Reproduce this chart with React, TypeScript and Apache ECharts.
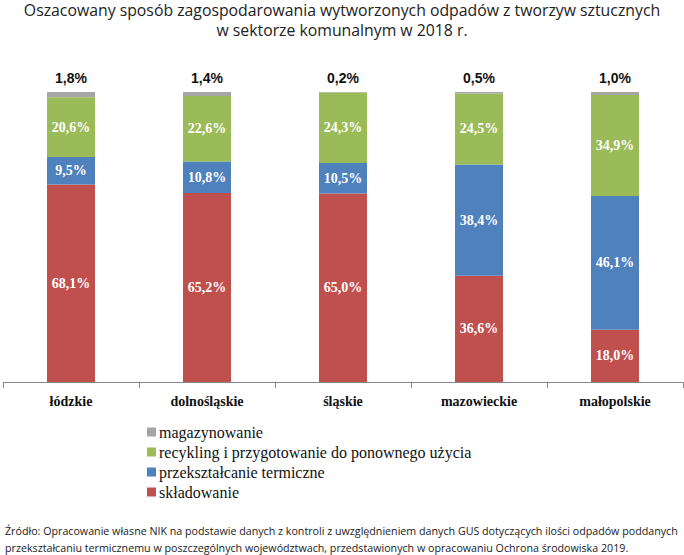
import React, { useEffect, useRef } from "react";
import * as echarts from "echarts";

const categories = ["łódzkie", "dolnośląskie", "śląskie", "mazowieckie", "małopolskie"];
const skladowanie = [68.1, 65.2, 65.0, 36.6, 18.0];
const przeksztalcanie = [9.5, 10.8, 10.5, 38.4, 46.1];
const recykling = [20.6, 22.6, 24.3, 24.5, 34.9];
const magazynowanie = [1.8, 1.4, 0.2, 0.5, 1.0];

const titleText =
  "Oszacowany sposób zagospodarowania wytworzonych odpadów z tworzyw sztucznych\nw sektorze komunalnym w 2018 r.";
const sourceText =
  "Źródło: Opracowanie własne NIK na podstawie danych z kontroli z uwzględnieniem danych GUS dotyczących ilości odpadów poddanych\nprzekształcaniu termicznemu w poszczególnych województwach, przedstawionych w opracowaniu Ochrona środowiska 2019.";

const fmt = (v: number) => v.toFixed(1).replace(".", ",") + "%";

export default function App() {
  const ref = useRef<HTMLDivElement>(null);
  useEffect(() => {
    if (!ref.current) return;
    const chart = echarts.init(ref.current, null, { renderer: "svg" });
    const inLabel = {
      show: true,
      position: "inside",
      color: "#ffffff",
      fontFamily: "Liberation Serif",
      fontWeight: "bold",
      fontSize: 14,
      formatter: (p: any) => fmt(p.value),
    };
    const barW = 48;
    chart.setOption({
      animation: false,
      legend: {
        orient: "vertical",
        left: 142,
        top: 419,
        icon: "rect",
        itemWidth: 9,
        itemHeight: 9,
        itemGap: 4,
        data: ["magazynowanie", "recykling i przygotowanie do ponownego użycia", "przekształcanie termiczne", "składowanie"],
        textStyle: {
          fontFamily: "Liberation Serif",
          fontSize: 16,
          color: "#111",
          lineHeight: 16,
          padding: [0, 0, 0, -2],
        },
      },
      grid: { left: 3, right: 1, top: 92, bottom: 173, containLabel: false },
      xAxis: {
        type: "category",
        data: categories,
        axisLine: { lineStyle: { color: "#888", width: 1 } },
        axisTick: { show: true, length: 6, lineStyle: { color: "#888" } },
        axisLabel: {
          color: "#111",
          fontFamily: "Liberation Serif",
          fontWeight: "bold",
          fontSize: 14,
          margin: 12,
        },
      },
      yAxis: { type: "value", min: 0, max: 100, show: false, splitLine: { show: false } },
      series: [
        {
          name: "składowanie",
          type: "bar",
          stack: "s",
          barWidth: barW,
          data: skladowanie,
          itemStyle: { color: "#C0504D" },
          label: inLabel,
        },
        {
          name: "przekształcanie termiczne",
          type: "bar",
          stack: "s",
          barWidth: barW,
          data: przeksztalcanie,
          itemStyle: { color: "#4F81BD" },
          label: inLabel,
        },
        {
          name: "recykling i przygotowanie do ponownego użycia",
          type: "bar",
          stack: "s",
          barWidth: barW,
          data: recykling,
          itemStyle: { color: "#9BBB59" },
          label: inLabel,
        },
        {
          name: "magazynowanie",
          type: "bar",
          stack: "s",
          barWidth: barW,
          data: magazynowanie,
          itemStyle: { color: "#A5A5A5" },
          label: {
            show: true,
            position: "top",
            distance: 7,
            color: "#111",
            fontFamily: "Liberation Sans",
            fontWeight: "bold",
            fontSize: 14,
            formatter: (p: any) => fmt(p.value),
          },
        },
      ],
      graphic: [
        {
          type: "text",
          x: 342,
          y: 0,
          style: {
            text: titleText,
            textAlign: "center",
            fontFamily: "Open Sans",
            fontSize: 15.8,
            lineHeight: 20,
            fill: "#222",
          },
        },
        {
          type: "text",
          left: 5,
          top: 522,
          style: {
            text: sourceText,
            fontFamily: "Open Sans",
            fontSize: 10.7,
            lineHeight: 17,
            fill: "#222",
          },
        },
      ],
    });
    return () => chart.dispose();
  }, []);
  return (
    <div
      ref={ref}
      style={{ position: "absolute", left: 0, top: 0, width: 684, height: 555, background: "#fff" }}
    />
  );
}
